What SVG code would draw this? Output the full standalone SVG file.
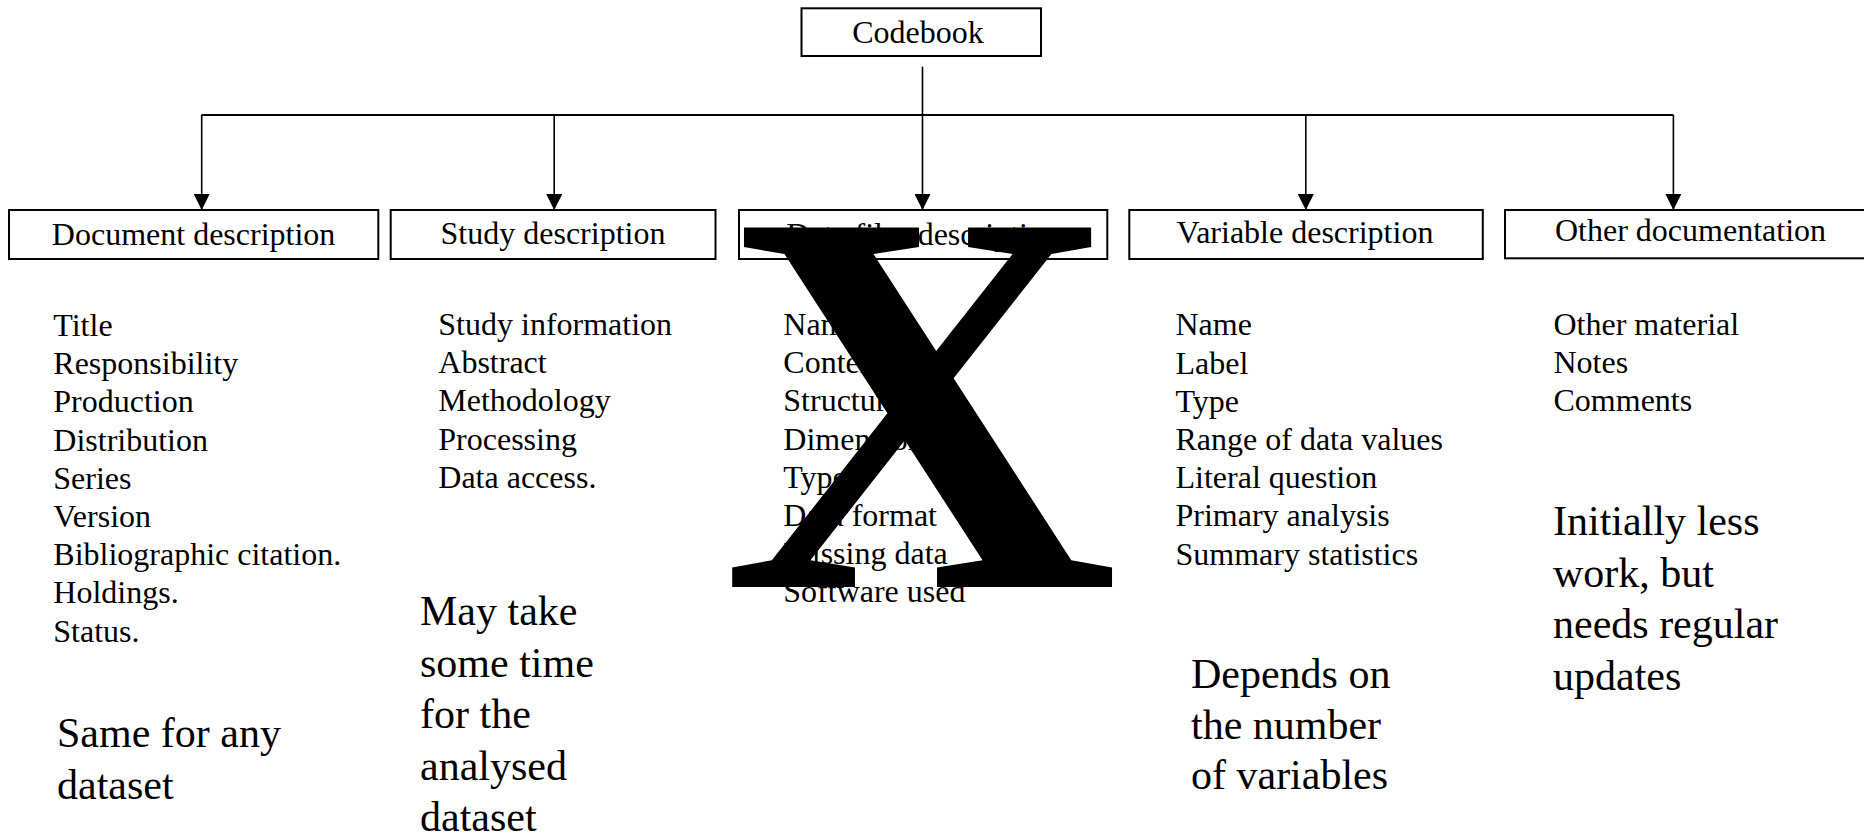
<svg xmlns="http://www.w3.org/2000/svg" width="1864" height="836" viewBox="0 0 1864 836">
<style>
.box{fill:#fff;stroke:#000;stroke-width:2}
.lbl{font-family:"Liberation Serif","Times New Roman",serif;font-size:32px;fill:#000;text-anchor:middle}
.lst{font-family:"Liberation Serif","Times New Roman",serif;font-size:32px;fill:#000}
.big{font-family:"Liberation Serif","Times New Roman",serif;font-size:42px;fill:#000}
.ln{stroke:#000;stroke-width:1.6;fill:none}
</style>
<defs>
<marker id="ah" markerUnits="userSpaceOnUse" markerWidth="16" markerHeight="16" refX="15" refY="7.5" orient="auto" viewBox="0 0 15 15">
<path d="M0,0 L15,7.5 L0,15 Z" fill="#000"/>
</marker>
</defs>
<rect width="1864" height="836" fill="#fff"/>
<g id="codebook">
<rect class="box" x="801.5" y="8.3" width="239.5" height="47.7"/>
<text class="lbl" x="918" y="42.5">Codebook</text>
</g>
<g id="connectors">
<line class="ln" x1="922.5" y1="66.7" x2="922.5" y2="115"/>
<line class="ln" x1="201.7" y1="115" x2="1673.4" y2="115" style="stroke-width:2"/>
<line class="ln" x1="201.7" y1="115" x2="201.7" y2="210" marker-end="url(#ah)"/>
<line class="ln" x1="554.2" y1="115" x2="554.2" y2="210" marker-end="url(#ah)"/>
<line class="ln" x1="922.5" y1="115" x2="922.5" y2="210" marker-end="url(#ah)"/>
<line class="ln" x1="1305.8" y1="115" x2="1305.8" y2="210" marker-end="url(#ah)"/>
<line class="ln" x1="1673.4" y1="115" x2="1673.4" y2="210" marker-end="url(#ah)"/>
</g>
<g id="document">
<rect class="box" x="9" y="210" width="369.3" height="49"/>
<text class="lbl" x="193.6" y="245">Document description</text>
<text class="lst" x="53.3" y="336">Title</text>
<text class="lst" x="53.3" y="374.2">Responsibility</text>
<text class="lst" x="53.3" y="412.4">Production</text>
<text class="lst" x="53.3" y="450.6">Distribution</text>
<text class="lst" x="53.3" y="488.8">Series</text>
<text class="lst" x="53.3" y="527">Version</text>
<text class="lst" x="53.3" y="565.2">Bibliographic citation.</text>
<text class="lst" x="53.3" y="603.4">Holdings.</text>
<text class="lst" x="53.3" y="641.6">Status.</text>
<text class="big" x="57" y="747">Same for any</text>
<text class="big" x="57" y="798.5">dataset</text>
</g>
<g id="study">
<rect class="box" x="390.7" y="210" width="324.8" height="49"/>
<text class="lbl" x="553" y="244">Study description</text>
<text class="lst" x="438.3" y="335">Study information</text>
<text class="lst" x="438.3" y="373.2">Abstract</text>
<text class="lst" x="438.3" y="411.4">Methodology</text>
<text class="lst" x="438.3" y="449.6">Processing</text>
<text class="lst" x="438.3" y="487.8">Data access.</text>
<text class="big" x="420" y="625.4">May take</text>
<text class="big" x="420" y="676.8">some time</text>
<text class="big" x="420" y="728.2">for the</text>
<text class="big" x="420" y="779.6">analysed</text>
<text class="big" x="420" y="831">dataset</text>
</g>
<g id="datafiles">
<rect class="box" x="739" y="210" width="368.3" height="49"/>
<text class="lbl" x="923" y="244.5">Data files description</text>
<text class="lst" x="783.3" y="335">Name</text>
<text class="lst" x="783.3" y="373.2">Content</text>
<text class="lst" x="783.3" y="411.4">Structure</text>
<text class="lst" x="783.3" y="449.6">Dimensions</text>
<text class="lst" x="783.3" y="487.8">Type</text>
<text class="lst" x="783.3" y="526">Data format</text>
<text class="lst" x="783.3" y="564.2">Missing data</text>
<text class="lst" x="783.3" y="602.4">Software used</text>
</g>
<g id="variable">
<rect class="box" x="1129.3" y="210" width="353.5" height="49"/>
<text class="lbl" x="1305" y="243">Variable description</text>
<text class="lst" x="1175.5" y="335.3">Name</text>
<text class="lst" x="1175.5" y="373.5">Label</text>
<text class="lst" x="1175.5" y="411.7">Type</text>
<text class="lst" x="1175.5" y="449.9">Range of data values</text>
<text class="lst" x="1175.5" y="488.1">Literal question</text>
<text class="lst" x="1175.5" y="526.3">Primary analysis</text>
<text class="lst" x="1175.5" y="564.5">Summary statistics</text>
<text class="big" x="1191" y="688">Depends on</text>
<text class="big" x="1191" y="738.5">the number</text>
<text class="big" x="1191" y="789">of variables</text>
</g>
<g id="other">
<rect class="box" x="1505" y="210" width="369" height="48.3"/>
<text class="lst" x="1555" y="240.7">Other documentation</text>
<text class="lst" x="1553.5" y="335">Other material</text>
<text class="lst" x="1553.5" y="373.2">Notes</text>
<text class="lst" x="1553.5" y="411.4">Comments</text>
<text class="big" x="1553" y="535">Initially less</text>
<text class="big" x="1553" y="586.5">work, but</text>
<text class="big" x="1553" y="638">needs regular</text>
<text class="big" x="1553" y="689.5">updates</text>
</g>
<g id="cross">
<text x="722" y="587" style="font-family:'Liberation Serif','Times New Roman',serif;font-size:549px;font-weight:bold;fill:#000">X</text>
</g>
</svg>
